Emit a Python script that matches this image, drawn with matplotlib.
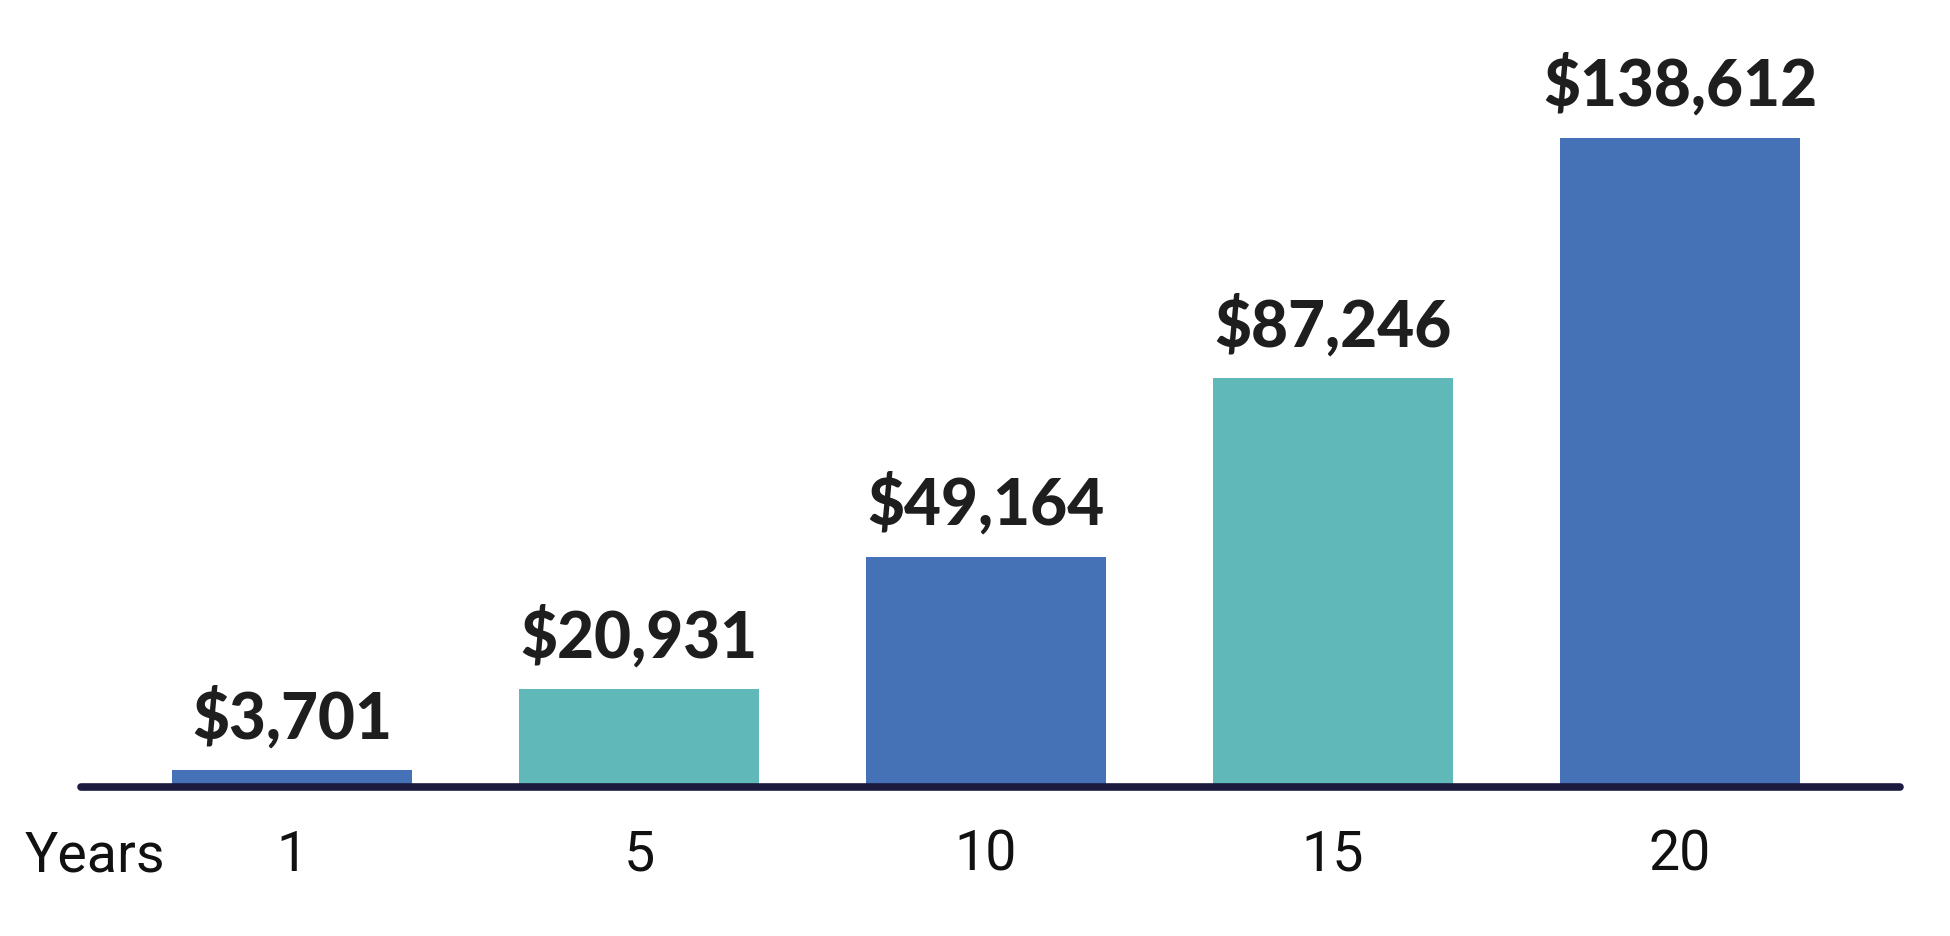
import matplotlib
matplotlib.use("Agg")
import matplotlib.pyplot as plt

# data
years = ["1", "5", "10", "15", "20"]
values = [3701, 20931, 49164, 87246, 138612]
colors = ["#4571b6", "#60b8b8", "#4571b6", "#60b8b8", "#4571b6"]

fig = plt.figure(figsize=(19.5, 9.36), dpi=100)
ax = fig.add_axes([0.0415, 0.159, 0.9329, 0.841])

x = range(len(years))
bars = ax.bar(x, values, width=0.69, color=colors, zorder=1)

for b, v in zip(bars, values):
    ax.annotate(f"${v:,}", (b.get_x() + b.get_width() / 2, v),
                xytext=(0, 15), textcoords="offset points",
                ha="center", va="bottom", fontsize=46, fontweight="black",
                family="Lato", color="#1e1e1e")

ax.set_xlim(-0.608, 4.634)
ax.set_ylim(0, 168000)
ax.set_xticks(list(x))
ax.set_xticklabels(years, fontsize=40, family="Roboto", color="#111111")
ax.tick_params(axis="x", length=0, pad=30)
ax.set_yticks([])

for s in ["top", "right", "left"]:
    ax.spines[s].set_visible(False)
ax.spines["bottom"].set_color("#1c1a3e")
ax.spines["bottom"].set_linewidth(5.5)
ax.spines["bottom"].set_capstyle("round")

fig.text(25 / 1950, 1 - 856 / 936, "Years", fontsize=40, family="Roboto",
         color="#111111", ha="left", va="center")

fig.savefig("out.png", dpi=100)
